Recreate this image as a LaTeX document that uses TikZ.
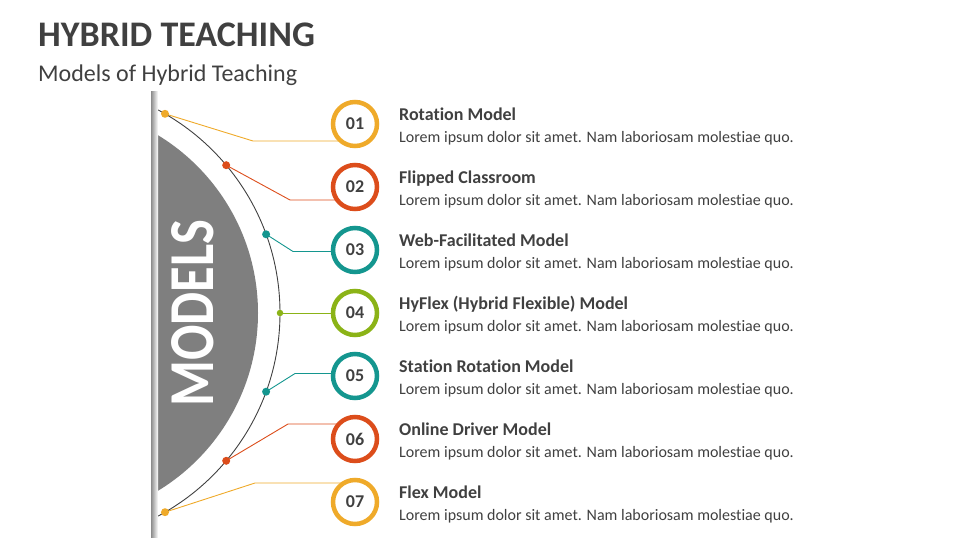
\documentclass[tikz,border=0pt]{standalone}
\usepackage{fontspec}
\setmainfont{Carlito}[Ligatures=NoCommon]
\usetikzlibrary{backgrounds}
\definecolor{cyel}{HTML}{EFAA2A}
\definecolor{cred}{HTML}{DC4D1B}
\definecolor{cteal}{HTML}{14968F}
\definecolor{cgrn}{HTML}{8BB317}
\definecolor{ctxt}{HTML}{404040}
\definecolor{cdisc}{HTML}{7F7F7F}
\tikzset{
  ring/.style={circle,draw=#1,line width=4.5pt,fill=white,minimum size=44pt,inner sep=0pt,
    font=\fontsize{18}{21}\selectfont\bfseries,text=ctxt},
  dot/.style={circle,fill=#1,minimum size=8pt,inner sep=0pt},
  link/.style={draw=#1,line width=0.9pt},
  head/.style={anchor=base west,inner sep=0pt,font=\fontsize{18}{21}\selectfont\bfseries,text=ctxt},
  body/.style={anchor=base west,inner sep=0pt,font=\fontsize{16}{19}\selectfont,text=ctxt},
}
\begin{document}
\begin{tikzpicture}[x=1pt,y=-1pt]
\useasboundingbox (0,0) rectangle (960,540);
% titles
\node[anchor=base west,inner sep=0pt,font=\fontsize{36}{40}\selectfont\bfseries,text=ctxt] (title) at (38,46.5) {HYBRID TEACHING};
\node[anchor=base west,inner sep=0pt,font=\fontsize{24}{28}\selectfont,text=ctxt] (subtitle) at (38,81.5) {Models of Hybrid Teaching};
% left disc and arc
\begin{scope}
  \clip (153,0) rectangle (960,540);
  \fill[cdisc] (50,313) circle [radius=208pt];
  \draw[line width=0.9pt,black!75] (50,313) circle [radius=230pt];
\end{scope}
\shade[left color=black!45,right color=white] (151,92) rectangle (158,537);
\node[rotate=90,inner sep=0pt,text=white,font=\fontsize{64}{70}\selectfont\bfseries] (models) at (193,313) {\scalebox{0.82}[1]{MODELS}};
% dots on arc
\node[dot=cyel]  (d1) at (165,113.8) {};
\node[dot=cred]  (d2) at (226.2,165.2) {};
\node[dot=cteal] (d3) at (266.1,234.3) {};
\node[dot=cgrn,minimum size=6.5pt]  (d4) at (280,313) {};
\node[dot=cteal] (d5) at (266.1,391.7) {};
\node[dot=cred]  (d6) at (226.2,460.8) {};
\node[dot=cyel]  (d7) at (165,512.2) {};
% numbered rings
\node[ring=cyel]  (c1) at (355,124) {01};
\node[ring=cred]  (c2) at (355,187) {02};
\node[ring=cteal] (c3) at (355,250) {03};
\node[ring=cgrn]  (c4) at (355,313) {04};
\node[ring=cteal] (c5) at (355,376) {05};
\node[ring=cred]  (c6) at (355,439) {06};
\node[ring=cyel]  (c7) at (355,502) {07};
% bends
\coordinate (b1) at (253,141);
\coordinate (b2) at (290,200);
\coordinate (b3) at (293,251.5);
\coordinate (b5) at (295,373.5);
\coordinate (b6) at (288,424);
\coordinate (b7) at (255,483);
\begin{pgfonlayer}{background}
\draw[link=cyel]  (d1.center) -- (b1) -- (c1.center |- b1);
\draw[link=cred]  (d2.center) -- (b2) -- (c2.center |- b2);
\draw[link=cteal] (d3.center) -- (b3) -- (c3.center |- b3);
\draw[link=cgrn]  (d4.center) -- (c4.center);
\draw[link=cteal] (d5.center) -- (b5) -- (c5.center |- b5);
\draw[link=cred]  (d6.center) -- (b6) -- (c6.center |- b6);
\draw[link=cyel]  (d7.center) -- (b7) -- (c7.center |- b7);
\end{pgfonlayer}
% texts
\node[head] (h1) at (399,120.5) {Rotation Model};
\node[body] (t1) at (399,142.5) {Lorem ipsum dolor sit amet. Nam laboriosam molestiae quo.};
\node[head] (h2) at (399,183.5) {Flipped Classroom};
\node[body] (t2) at (399,205.5) {Lorem ipsum dolor sit amet. Nam laboriosam molestiae quo.};
\node[head] (h3) at (399,246.5) {Web-Facilitated Model};
\node[body] (t3) at (399,268.5) {Lorem ipsum dolor sit amet. Nam laboriosam molestiae quo.};
\node[head] (h4) at (399,309.5) {HyFlex (Hybrid Flexible) Model};
\node[body] (t4) at (399,331.5) {Lorem ipsum dolor sit amet. Nam laboriosam molestiae quo.};
\node[head] (h5) at (399,372.5) {Station Rotation Model};
\node[body] (t5) at (399,394.5) {Lorem ipsum dolor sit amet. Nam laboriosam molestiae quo.};
\node[head] (h6) at (399,435.5) {Online Driver Model};
\node[body] (t6) at (399,457.5) {Lorem ipsum dolor sit amet. Nam laboriosam molestiae quo.};
\node[head] (h7) at (399,498.5) {Flex Model};
\node[body] (t7) at (399,520.5) {Lorem ipsum dolor sit amet. Nam laboriosam molestiae quo.};
\end{tikzpicture}
\end{document}
